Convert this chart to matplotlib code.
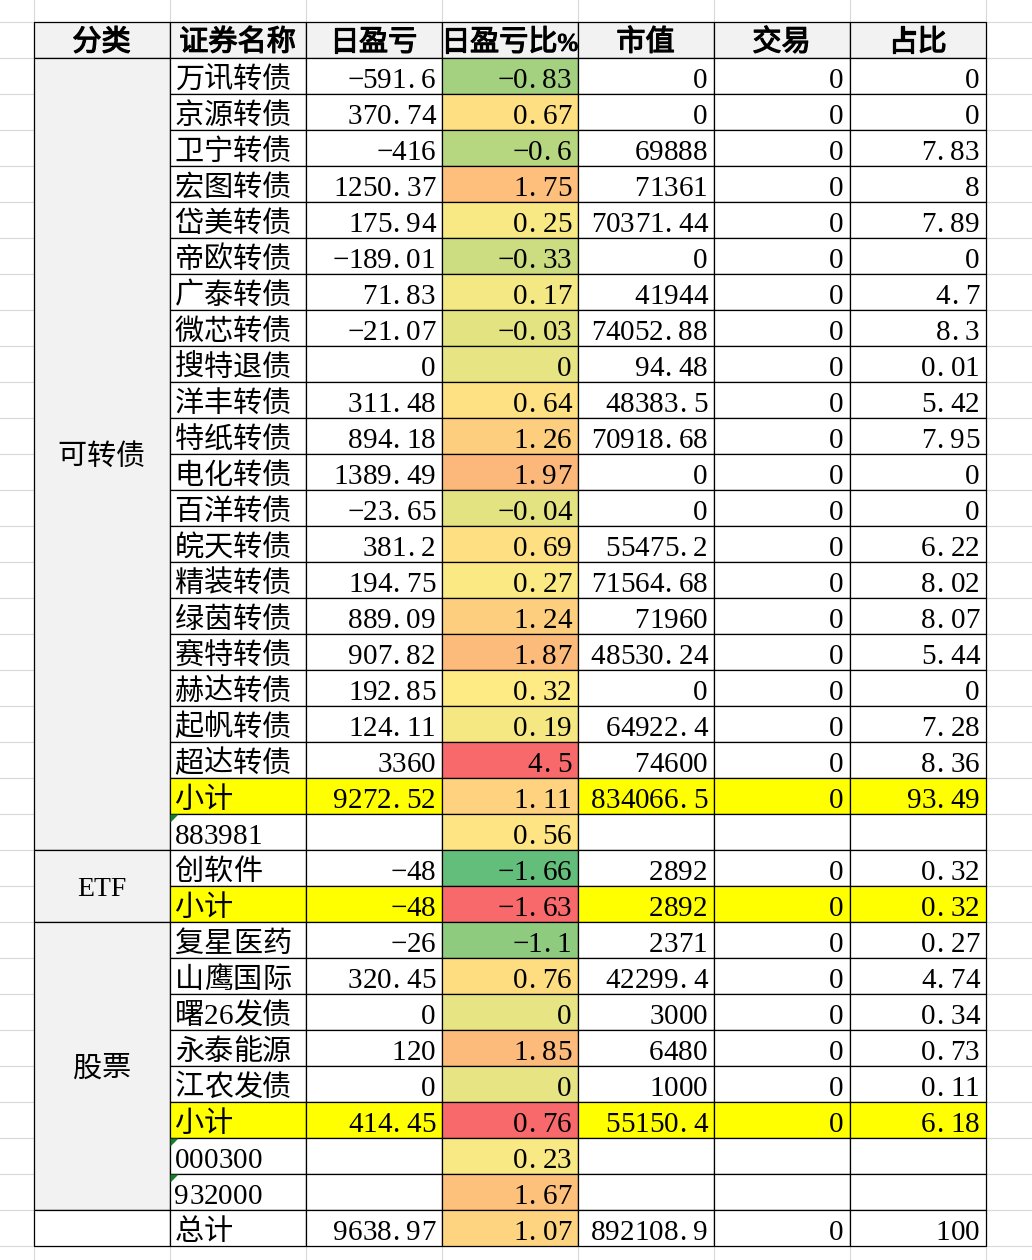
import numpy as np
import matplotlib
matplotlib.use("Agg")
import matplotlib.pyplot as plt
from matplotlib.patches import Rectangle, Polygon
import matplotlib.patheffects as pe

plt.rcParams['font.family'] = ['Liberation Serif', 'Noto Sans CJK SC', 'DejaVu Sans']

# Dati della tabella
headers = ['分类', '证券名称', '日盈亏', '日盈亏比%', '市值', '交易', '占比']
groups = ['可转债', 'ETF', '股票', '']
group_rows = [22, 2, 8, 1]

names = ['万讯转债', '京源转债', '卫宁转债', '宏图转债', '岱美转债', '帝欧转债', '广泰转债',
         '微芯转债', '搜特退债', '洋丰转债', '特纸转债', '电化转债', '百洋转债', '皖天转债',
         '精装转债', '绿茵转债', '赛特转债', '赫达转债', '起帆转债', '超达转债', '小计', '883981',
         '创软件', '小计',
         '复星医药', '山鹰国际', '曙26发债', '永泰能源', '江农发债', '小计', '000300', '932000',
         '总计']
pnl = [-591.6, 370.74, -416, 1250.37, 175.94, -189.01, 71.83, -21.07, 0, 311.48, 894.18,
       1389.49, -23.65, 381.2, 194.75, 889.09, 907.82, 192.85, 124.11, 3360, 9272.52, None,
       -48, -48,
       -26, 320.45, 0, 120, 0, 414.45, None, None,
       9638.97]
pnl_pct = [-0.83, 0.67, -0.6, 1.75, 0.25, -0.33, 0.17, -0.03, 0, 0.64, 1.26, 1.97, -0.04,
           0.69, 0.27, 1.24, 1.87, 0.32, 0.19, 4.5, 1.11, 0.56,
           -1.66, -1.63,
           -1.1, 0.76, 0, 1.85, 0, 0.76, 0.23, 1.67,
           1.07]
market_value = [0, 0, 69888, 71361, 70371.44, 0, 41944, 74052.88, 94.48, 48383.5, 70918.68,
                0, 0, 55475.2, 71564.68, 71960, 48530.24, 0, 64922.4, 74600, 834066.5, None,
                2892, 2892,
                2371, 42299.4, 3000, 6480, 1000, 55150.4, None, None,
                892108.9]
trade = [0] * 21 + [None] + [0, 0] + [0] * 6 + [None, None] + [0]
share = [0, 0, 7.83, 8, 7.89, 0, 4.7, 8.3, 0.01, 5.42, 7.95, 0, 0, 6.22, 8.02, 8.07, 5.44,
         0, 7.28, 8.36, 93.49, None,
         0.32, 0.32,
         0.27, 4.74, 0.34, 0.73, 0.11, 6.18, None, None,
         100]

subtotal_rows = [i for i, n in enumerate(names) if n == '小计']
text_code_rows = [i for i, n in enumerate(names) if n.isdigit()]
# queste due celle hanno una scala colori a parte (sola cella -> colore massimo)
solo_scale_rows = [23, 29]

# Layout in pixel
W, H = 1032, 1260
x0, col_w = 33.5, 136
y0, row_h = 21.5, 36
ncol = len(headers)
nrow = len(names)
col_x = [x0 + i * col_w for i in range(ncol + 1)]
row_y = [y0 + i * row_h for i in range(nrow + 2)]

GRID = '#D9D9D9'
GREY = '#F2F2F2'
YELLOW = '#FFFF00'
FS = 21
EM = FS * 100 / 72


def fmt(v):
    if v is None:
        return ''
    if float(v) == int(v):
        s = str(int(v))
    else:
        s = str(round(v, 2))
    return s.replace('-', '\u2212')


# Scala a tre colori (verde - giallo - rosso)
c_min = np.array([99, 190, 123]) / 255
c_mid = np.array([255, 235, 132]) / 255
c_max = np.array([248, 105, 107]) / 255
scale_vals = np.array([v for i, v in enumerate(pnl_pct) if i not in solo_scale_rows])
v_min, v_max = scale_vals.min(), scale_vals.max()
v_mid = np.percentile(scale_vals, 50)


def scale_color(v):
    if v <= v_mid:
        t = (v - v_min) / (v_mid - v_min)
        return tuple(c_min + (c_mid - c_min) * t)
    t = (v - v_mid) / (v_max - v_mid)
    return tuple(c_max * t + c_mid * (1 - t))


fig = plt.figure(figsize=(W / 100, H / 100), dpi=100)
ax = fig.add_axes([0, 0, 1, 1])
ax.set_xlim(0, W)
ax.set_ylim(H, 0)
ax.axis('off')

# griglia del foglio
for x in col_x:
    ax.plot([x, x], [0, H], color=GRID, lw=0.8, zorder=0)
y = y0
while y < H:
    ax.plot([0, W], [y, y], color=GRID, lw=0.8, zorder=0)
    y += row_h


def cell(x, y, w, h, fc):
    ax.add_patch(Rectangle((x, y), w, h, facecolor=fc, edgecolor='black', lw=0.9, zorder=2))


def adv(ch):
    if ch == '%':
        return EM * 0.71
    return EM / 2 if ord(ch) < 0x2000 or ch == '\u2212' else EM


def mono(text, x, base, ha='left', bold=False):
    # testo a passo fisso come il font del foglio (mezzo em per i caratteri latini)
    total = sum(adv(c) for c in text)
    if ha == 'right':
        left = x - total
    elif ha == 'center':
        left = x - total / 2
    else:
        left = x
    effects = [pe.withStroke(linewidth=0.9, foreground='black')] if bold else None
    for c in text:
        a = adv(c)
        size = FS
        cx = left + a / 2
        if c == '.':
            cx = left + a * 0.3
        elif c == '%':
            size = FS * 0.85
        ax.text(cx, base, c, ha='center', va='baseline', fontsize=size, zorder=4,
                path_effects=effects)
        left += a


def put(text, col, row, align='right', bold=False):
    base = row_y[row] + row_h - 6
    if align == 'right':
        mono(text, col_x[col + 1] - 6, base, 'right', bold)
    elif align == 'left':
        mono(text, col_x[col] + 5, base, 'left', bold)
    else:
        mono(text, (col_x[col] + col_x[col + 1]) / 2, base - 1, 'center', bold)


# intestazione
for j, h in enumerate(headers):
    cell(col_x[j], row_y[0], col_w, row_h, GREY)
    put(h, j, 0, align='center', bold=True)

# colonna 分类 (celle unite)
start = 1
for g, n in zip(groups, group_rows):
    fc = GREY if g else 'white'
    cell(col_x[0], row_y[start], col_w, n * row_h, fc)
    cx = (col_x[0] + col_x[1]) / 2
    base = row_y[start] + n * row_h / 2 + 11
    if g.isascii() and g:
        ax.text(cx, base - 1, g, ha='center', va='baseline', fontsize=FS - 1, zorder=4)
    elif g:
        mono(g, cx, base, 'center')
    start += n

# righe dei dati
columns = [pnl, pnl_pct, market_value, trade, share]
for i in range(nrow):
    r = i + 1
    base_fc = YELLOW if i in subtotal_rows else 'white'
    cell(col_x[1], row_y[r], col_w, row_h, base_fc)
    put(names[i], 1, r, align='left')
    for k, vals in enumerate(columns):
        j = k + 2
        fc = base_fc
        if k == 1:
            fc = tuple(c_max) if i in solo_scale_rows else scale_color(vals[i])
        cell(col_x[j], row_y[r], col_w, row_h, fc)
        put(fmt(vals[i]), j, r)
    if i in text_code_rows:
        tx, ty = col_x[1] + 1, row_y[r] + 1
        ax.add_patch(Polygon([(tx, ty), (tx + 8, ty), (tx, ty + 8)], closed=True,
                             facecolor='#1B7A2B', edgecolor='none', zorder=5))

fig.savefig('out.png', dpi=100)
